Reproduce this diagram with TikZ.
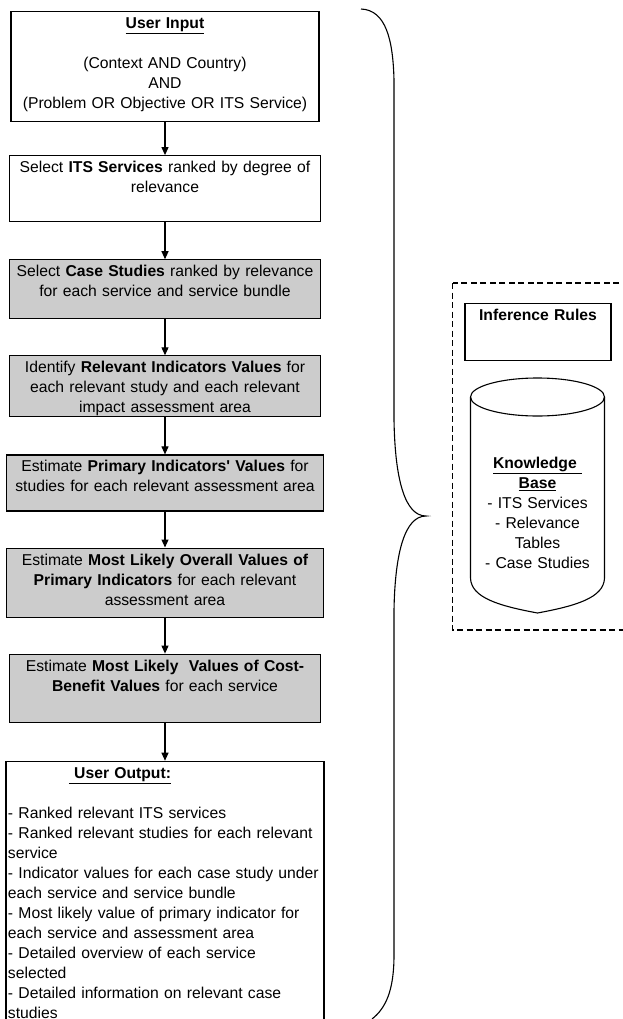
\documentclass[tikz,border=0pt]{standalone}
\usepackage{fontspec}
\setmainfont{Liberation Sans}[Ligatures=TeXOff]
\usetikzlibrary{arrows.meta, positioning}
\definecolor{boxgray}{HTML}{CCCCCC}

\begin{document}
\begin{tikzpicture}[x=1pt, y=-1pt, node distance=36pt]
\clip (0,0) rectangle (623,1019);
% Define styles
\tikzstyle{stepbox} = [rectangle, draw, line width=1.1pt, text width=305pt, align=center, inner sep=3pt, text height=14pt, font=\fontsize{15.7}{20}\selectfont]
\tikzstyle{greybox} = [stepbox, fill=boxgray]
\tikzstyle{kbtext} = [anchor=north, align=center, text width=130pt, inner sep=3pt, text height=14pt, font=\fontsize{15.7}{20}\selectfont]
\tikzstyle{arrow} = [line width=1.1pt, -{Triangle[width=7pt,length=8pt]}]
\tikzstyle{outline} = [line width=1.1pt]

% Nodes
\node (input) [stepbox, anchor=north, text width=302pt, text depth=90pt] at (165,11) {\underline{\textbf{User Input}}\\[20pt] (Context AND Country)\\ AND\\ (Problem OR Objective OR ITS Service)};
\node (services) [stepbox, below=33pt of input, text depth=46pt] {Select \textbf{ITS Services} ranked by degree of\\ relevance};
\node (cases) [greybox, below=37pt of services, text depth=39pt] {Select \textbf{Case Studies} ranked by relevance\\ for each service and service bundle};
\node (indicators) [greybox, below=of cases, text depth=41pt] {Identify \textbf{Relevant Indicators Values} for\\ each relevant study and each relevant\\ impact assessment area};
\node (primary) [greybox, below=37pt of indicators, text width=311pt, text depth=36pt] {Estimate \textbf{Primary Indicators' Values} for\\ studies for each relevant assessment area};
\node (overall) [greybox, below=of primary, text width=311pt, text depth=49pt] {Estimate \textbf{Most Likely Overall Values of}\\ \textbf{Primary Indicators} for each relevant\\ assessment area};
\node (costbenefit) [greybox, below=of overall, text depth=48pt] {Estimate \textbf{Most Likely\ \ Values of Cost-}\\ \textbf{Benefit Values} for each service};
\node (output) [stepbox, below=38pt of costbenefit, align=left, inner xsep=2pt, text width=314pt, text depth=250pt] {\hspace*{61pt}\underline{\textbf{\ User Output:}}\\[20pt]
- Ranked relevant ITS services\\
- Ranked relevant studies for each relevant\\
service\\
- Indicator values for each case study under\\
each service and service bundle\\
- Most likely value of primary indicator for\\
each service and assessment area\\
- Detailed overview of each service\\
selected\\
- Detailed information on relevant case\\
studies};

% Knowledge side
\draw[outline, dash pattern=on 6pt off 3.5pt] (452.5,283) rectangle (640,630);
\node (rules) [stepbox, anchor=north, text width=140pt, text depth=37pt] at (538,303) {\textbf{Inference Rules}};
\draw[outline] (470.5,397) -- (470.5,578) .. controls (471,598) and (500,606) .. (537.5,613) .. controls (575,606) and (604,598) .. (604.5,578) -- (604.5,397);
\draw[outline] (537.5,397) ellipse [x radius=67pt, y radius=19pt];
\node (kb) [kbtext] at (537.5,451) {\underline{\textbf{Knowledge\ }}\\ \underline{\textbf{Base}}\\ - ITS Services\\ - Relevance\\ Tables\\ - Case Studies};

% Brace
\draw[outline] (361,9) .. controls (386,10) and (393,40) .. (394,80) -- (394,420) .. controls (395,480) and (405,516) .. (426,516) .. controls (405,516) and (395,552) .. (394,610) -- (394,955) .. controls (394,990) and (386,1008) .. (372,1019);

% Arrows
\draw[arrow] (input) -- (services);
\draw[arrow] (services) -- (cases);
\draw[arrow] (cases) -- (indicators);
\draw[arrow] (indicators) -- (primary);
\draw[arrow] (primary) -- (overall);
\draw[arrow] (overall) -- (costbenefit);
\draw[arrow] (costbenefit) -- (output);
\end{tikzpicture}
\end{document}
